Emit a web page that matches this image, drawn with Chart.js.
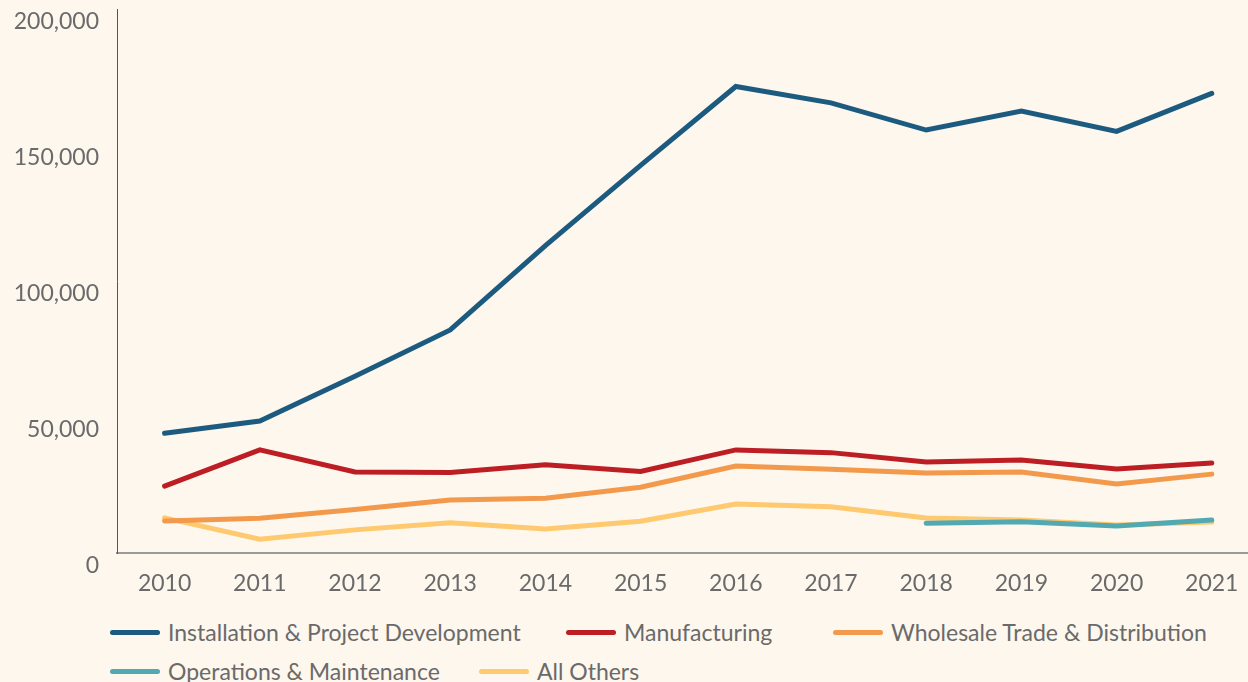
<!DOCTYPE html>
<html>
<head>
<meta charset="utf-8">
<script src="https://cdn.jsdelivr.net/npm/chart.js@4/dist/chart.umd.min.js"></script>
<style>
  html, body { margin: 0; padding: 0; background: #fdf7ee; }
  #wrap { position: relative; width: 1248px; height: 682px; overflow: hidden; background: #fdf7ee; }
  #chart { position: absolute; left: 0; top: 0; }
  .lg { position: absolute; display: flex; align-items: center; font-family: Lato, "Open Sans", sans-serif; font-weight: 400; font-size: 23px; color: #6a6a6a; white-space: nowrap; transform: translateY(-50%); }
  .lg .sw { display: inline-block; width: 50px; height: 5px; border-radius: 3px; margin-right: 8px; }
</style>
</head>
<body>
<div id="wrap">
  <canvas id="chart" width="1248" height="600"></canvas>
  <div id="legend"></div>
</div>
<script>
// ---- data ----
const years = [2010, 2011, 2012, 2013, 2014, 2015, 2016, 2017, 2018, 2019, 2020, 2021];
const seriesNames = ["Installation & Project Development", "Manufacturing", "Wholesale Trade & Distribution", "Operations & Maintenance", "All Others"];
const installation = [44000, 48500, 65000, 82000, 113000, 142500, 171500, 165500, 155500, 162500, 155000, 169000];
const manufacturing = [24600, 37900, 29800, 29600, 32400, 30000, 37900, 36900, 33500, 34200, 30900, 33100];
const wholesale = [11800, 12800, 16000, 19500, 20100, 24200, 32000, 30800, 29400, 29800, 25400, 29000];
const operations = [null, null, null, null, null, null, null, null, 10900, 11500, 9900, 12100];
const allOthers = [12900, 5100, 8500, 11100, 8800, 11700, 18000, 17000, 12900, 12100, 10300, 11400];
const yTicks = [0, 50000, 100000, 150000, 200000];

// ---- styles ----
const colors = ["#1c5b7f", "#bd1e24", "#f3994b", "#52a9b1", "#fec96f"];
const legendLayout = [
  { left: 110, top: 632 }, { left: 566, top: 632 }, { left: 833, top: 632 },
  { left: 110, top: 671 }, { left: 479, top: 671 }
];
const FONT = "Lato, 'Open Sans', sans-serif";
const TEXT = "#6a6a6a";

const allSeries = [installation, manufacturing, wholesale, operations, allOthers];
const datasets = allSeries.map((vals, i) => ({
  label: seriesNames[i],
  data: years.map((yr, j) => ({ x: yr, y: vals[j] })),
  borderColor: colors[i],
  backgroundColor: colors[i],
  borderWidth: 5,
  pointRadius: 0,
  pointHoverRadius: 0,
  tension: 0,
  borderCapStyle: "round",
  spanGaps: false,
  fill: false
}));

new Chart(document.getElementById("chart"), {
  type: "line",
  data: { datasets },
  options: {
    responsive: false,
    animation: false,
    devicePixelRatio: 1,
    layout: { padding: { top: 9, right: 1, bottom: 0, left: 0 } },
    plugins: { legend: { display: false }, tooltip: { enabled: false } },
    scales: {
      x: {
        type: "linear",
        min: 2009.5,
        max: 2021.37,
        grid: { display: false, drawTicks: false },
        border: { display: true, color: "#9a9a9a", width: 2 },
        afterBuildTicks: (s) => { s.ticks = years.map(v => ({ value: v })); },
        afterFit: (s) => { s.height = 47; s.paddingLeft = 0; s.paddingRight = 0; },
        ticks: {
          padding: 17,
          color: TEXT,
          font: { family: FONT, size: 23, weight: 400 },
          maxRotation: 0,
          autoSkip: false,
          callback: (v) => String(v)
        }
      },
      y: {
        min: 0,
        max: 200000,
        grid: { display: false, drawTicks: false },
        border: { display: true, color: "#555555", width: 1 },
        afterBuildTicks: (s) => { s.ticks = yTicks.map(v => ({ value: v })); },
        afterFit: (s) => { s.width = 117; s.paddingTop = 0; s.paddingBottom = 0; },
        ticks: {
          padding: 18,
          labelOffset: 13,
          color: TEXT,
          font: { family: FONT, size: 23, weight: 400 },
          callback: (v) => v.toLocaleString("en-US")
        }
      }
    }
  }
});

// HTML legend
const lg = document.getElementById("legend");
seriesNames.forEach((name, i) => {
  const d = document.createElement("div");
  d.className = "lg";
  d.style.left = legendLayout[i].left + "px";
  d.style.top = legendLayout[i].top + "px";
  const sw = document.createElement("span");
  sw.className = "sw";
  sw.style.background = colors[i];
  const t = document.createElement("span");
  t.textContent = name;
  d.appendChild(sw);
  d.appendChild(t);
  lg.appendChild(d);
});
</script>
</body>
</html>
